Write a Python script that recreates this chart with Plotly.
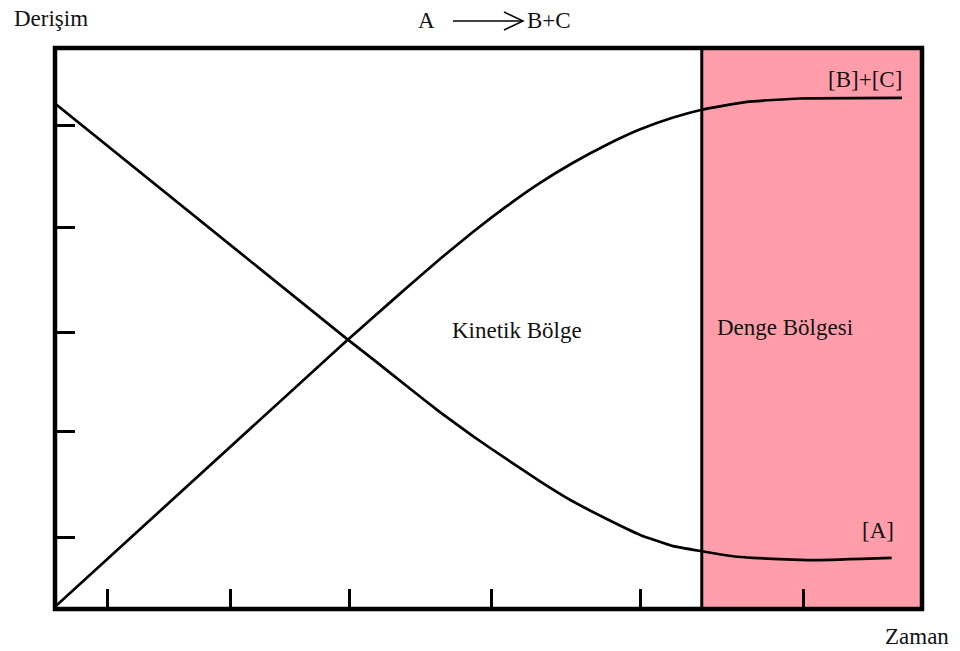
import plotly.graph_objects as go

# Reaction A -> B + C: concentration profiles over time
time_a = [0, 33.7, 36.7, 40.6, 44.4, 48.2, 52.1, 55.9, 59.7, 63.7, 67.5, 71.3,
          74.6, 78.2, 80.5, 85.1, 87.9, 96.5]
conc_a = [90.1, 48.1, 44.5, 39.7, 35.1, 30.8, 26.7, 22.8, 19.2, 16.0, 13.2, 11.2,
          10.3, 9.4, 9.1, 8.8, 8.7, 9.1]

time_bc = [0, 33.7, 36.7, 40.6, 44.4, 48.2, 52.1, 55.9, 59.7, 63.7, 67.5, 71.3,
           74.6, 79.8, 85.9, 97.7]
conc_bc = [0.4, 47.9, 52.0, 57.3, 62.4, 67.2, 71.8, 75.9, 79.5, 82.8, 85.5, 87.6,
           89.0, 90.4, 91.0, 91.1]

x_ticks = [6.1, 20.2, 34.0, 50.4, 67.5, 86.3]
y_ticks = [12.8, 31.7, 49.2, 68.0, 86.2]

eq_start = 74.6   # start of the equilibrium region
x_max = 100
y_max = 100

W, H = 960, 651
L, R, T, B = 55, 38, 48, 42
PW, PH = W - L - R, H - T - B


def px(x):
    return (x - L) / PW


def py(y):
    return (H - B - y) / PH


FONT = "Liberation Serif"
INK = "#111111"

fig = go.Figure()

line_style = dict(color="black", width=2.7, shape="spline", smoothing=0.4)
fig.add_trace(go.Scatter(x=time_a, y=conc_a, mode="lines", line=line_style,
                         name="[A]", hoverinfo="skip"))
fig.add_trace(go.Scatter(x=time_bc, y=conc_bc, mode="lines", line=line_style,
                         name="[B]+[C]", hoverinfo="skip"))

shapes = [
    # equilibrium region shading
    dict(type="rect", xref="x", yref="paper", x0=eq_start, x1=x_max, y0=0, y1=1,
         fillcolor="rgb(255,158,170)", line=dict(width=0), layer="below"),
    # boundary between kinetic and equilibrium regions
    dict(type="line", xref="x", yref="paper", x0=eq_start, x1=eq_start, y0=0, y1=1,
         line=dict(color="black", width=3)),
    # frame
    dict(type="rect", xref="paper", yref="paper", x0=0, x1=1, y0=0, y1=1,
         line=dict(color="black", width=4.5), layer="above"),
    # reaction arrow
    dict(type="line", xref="paper", yref="paper", x0=px(453), x1=px(523),
         y0=py(21), y1=py(21), line=dict(color="black", width=1.5)),
    dict(type="path", xref="paper", yref="paper",
         path=f"M {px(504)},{py(12)} L {px(523)},{py(21)} L {px(504)},{py(30)}",
         line=dict(color="black", width=1.5)),
]

def label(text, x, y, size=23):
    return dict(text=text, xref="paper", yref="paper", x=px(x), y=py(y),
                xanchor="center", yanchor="middle", showarrow=False,
                font=dict(family=FONT, size=size, color=INK))

annotations = [
    label("Derişim", 51, 18),
    label("A", 426, 20),
    label("B+C", 549, 20),
    label("[B]+[C]", 865, 79),
    label("[A]", 878, 530),
    label("Kinetik Bölge", 517, 330),
    label("Denge Bölgesi", 785, 327),
    label("Zaman", 917, 636),
]

axis_common = dict(showgrid=False, zeroline=False, showline=False,
                   showticklabels=False, ticks="inside", ticklen=20,
                   tickwidth=3, tickcolor="black", fixedrange=True)

fig.update_layout(
    width=W, height=H, autosize=False,
    margin=dict(l=L, r=R, t=T, b=B, pad=0),
    paper_bgcolor="white", plot_bgcolor="white",
    showlegend=False,
    xaxis=dict(range=[0, x_max], tickvals=x_ticks, **axis_common),
    yaxis=dict(range=[0, y_max], tickvals=y_ticks, **axis_common),
    shapes=shapes,
    annotations=annotations,
)

fig.write_html("out.html", config={"displayModeBar": False, "staticPlot": True})
